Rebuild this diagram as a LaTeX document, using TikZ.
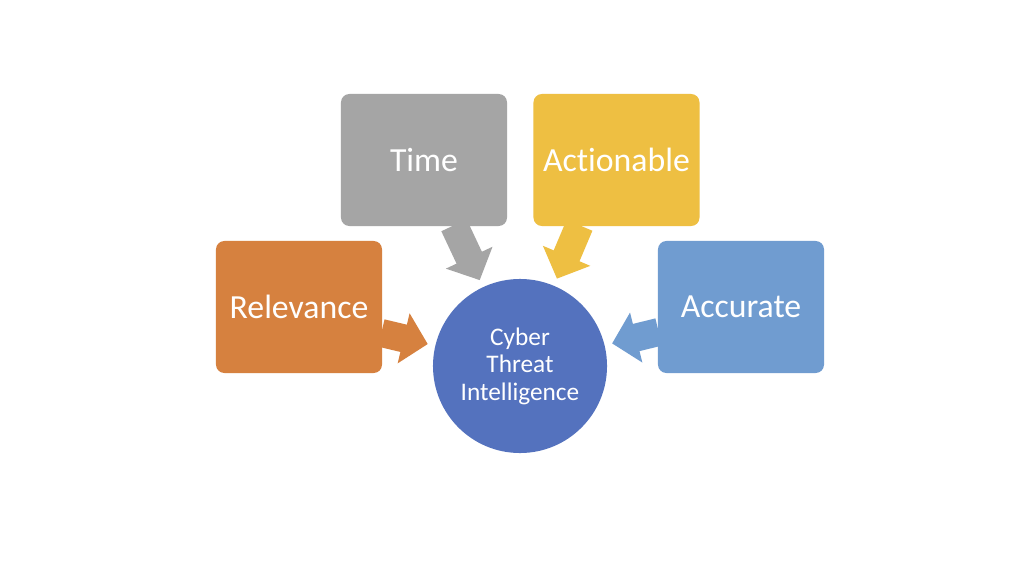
\documentclass[tikz,border=0pt]{standalone}
\usepackage{fontspec}
\setmainfont{Carlito}[Ligatures={NoCommon,NoContextual}]
\usetikzlibrary{calc,arrows.meta}
\definecolor{timeGray}{RGB}{165,165,165}
\definecolor{actGold}{RGB}{238,191,66}
\definecolor{relOrange}{RGB}{214,129,63}
\definecolor{accBlue}{RGB}{112,156,208}
\definecolor{ctiBlue}{RGB}{84,114,190}

\begin{document}
\begin{tikzpicture}[x=0.025cm,y=0.025cm,
  factbox/.style={rounded corners=6pt,inner sep=0pt,minimum width=4.15cm,minimum height=3.3cm,
    text=white,font=\fontsize{24}{27}\selectfont},
  fatarrow/.style={draw=#1,line width=0.7cm,-{Triangle[width=1.25cm,length=0.62cm]},shorten >=2.37cm}]
\path[use as bounding box,fill=white] (0,0) rectangle (1024,574);

\node[factbox,fill=timeGray] (time) at (424,414) {Time};
\node[factbox,fill=actGold] (act) at (616.5,414) {Actionable};
\node[factbox,fill=relOrange] (rel) at (299,267) {Relevance};
\node[factbox,fill=accBlue] (acc) at (741,267) {Accurate};

\node[circle,fill=ctiBlue,minimum size=4.35cm,inner sep=0pt,text=white,align=center,
  font=\fontsize{18}{19.5}\selectfont] (cti) at (520,208) {\raisebox{-0.1cm}{Cyber}\\\raisebox{-0.1cm}{Threat}\\\raisebox{-0.1cm}{Intelligence}};

\draw[fatarrow=timeGray] ($(time.south)+(30,1)$) -- (cti.center);
\draw[fatarrow=actGold] ($(act.south)+(-37,1)$) -- (cti.center);
\draw[fatarrow=relOrange] ($(rel.east)+(-1,-26)$) -- (cti.center);
\draw[fatarrow=accBlue] ($(acc.west)+(1,-25)$) -- (cti.center);
\end{tikzpicture}
\end{document}
